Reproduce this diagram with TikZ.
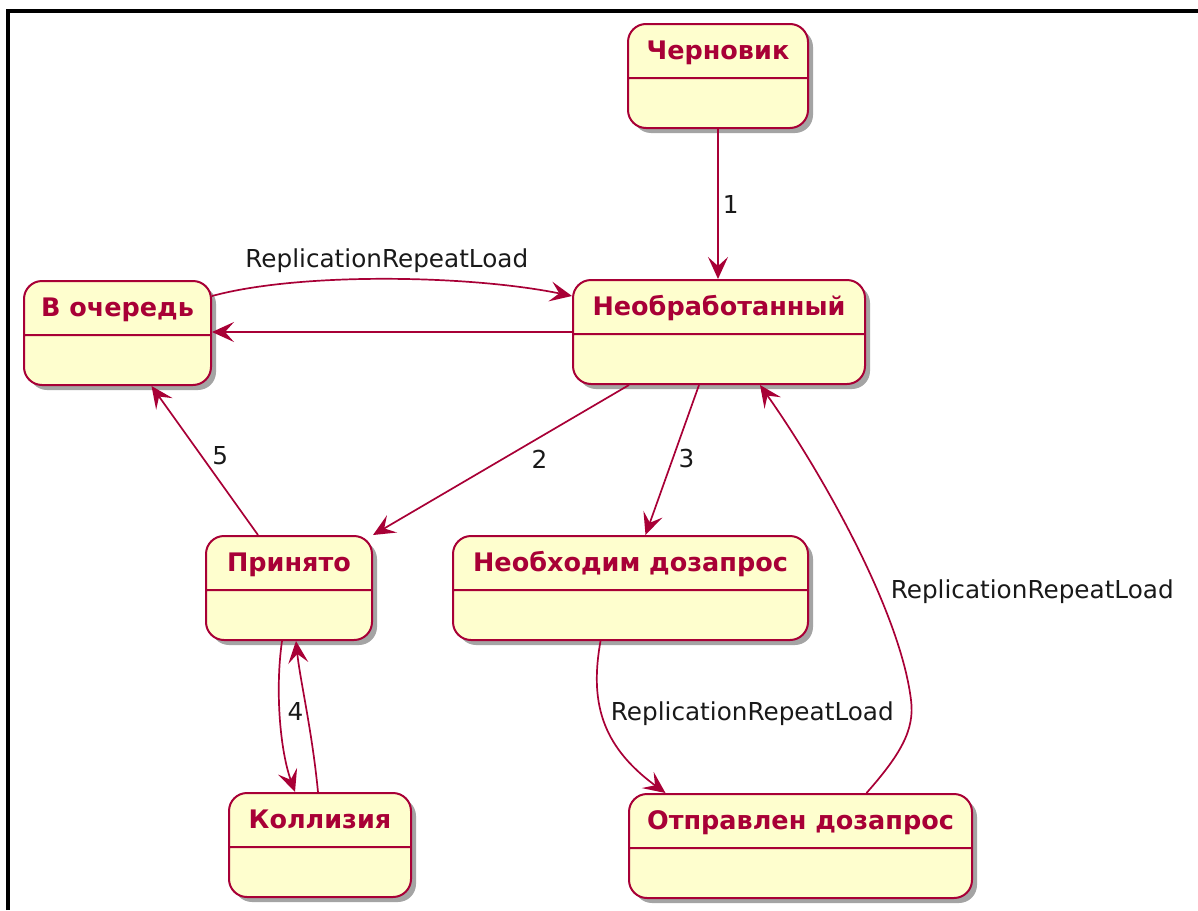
\documentclass[tikz,border=0pt]{standalone}
\usepackage{fontspec}
\setmainfont{DejaVu Sans}
\usetikzlibrary{shapes.multipart,shadows,arrows.meta}
\definecolor{umlred}{HTML}{A80036}
\definecolor{umlfill}{HTML}{FEFECE}
\tikzset{
  state/.style={rectangle split, rectangle split parts=2, draw=umlred, fill=umlfill,
    line width=2pt, rounded corners=18pt, inner sep=0pt, anchor=north,
    font=\bfseries\fontsize{25.5}{28}\selectfont, text=umlred,
    drop shadow={shadow xshift=5pt, shadow yshift=-5pt, fill=black!55, opacity=.65}},
  trans/.style={color=umlred, line width=1.7pt, arrows={-Stealth[length=22pt, width=20pt, inset=9pt]}},
  lbl/.style={font=\fontsize{24.7}{28}\selectfont, text=black!90, inner sep=0pt}
}
\newcommand{\titlestrut}{\rule[-18pt]{0pt}{52pt}}
\newcommand{\bodystrut}{\rule{0pt}{48pt}}
\begin{document}
\begin{tikzpicture}[x=1pt, y=-1pt]
    \useasboundingbox (0,0) rectangle (1198,910);
    \draw[line width=4pt] (7.5,910) -- (7.5,10.5) -- (1198,10.5);
    \node[state, minimum width=180pt] (chern) at (718,23) {\titlestrut Черновик\nodepart{two}\bodystrut};
    \node[state, minimum width=292pt] (neobr) at (719,279) {\titlestrut Необработанный\nodepart{two}\bodystrut};
    \node[state, minimum width=187pt] (voch) at (117.5,280) {\titlestrut В очередь\nodepart{two}\bodystrut};
    \node[state, minimum width=166pt] (prin) at (289,535) {\titlestrut Принято\nodepart{two}\bodystrut};
    \node[state, minimum width=355pt] (neobh) at (630.5,535) {\titlestrut Необходим дозапрос\nodepart{two}\bodystrut};
    \node[state, minimum width=182pt] (koll) at (320,792) {\titlestrut Коллизия\nodepart{two}\bodystrut};
    \node[state, minimum width=343pt] (otpr) at (800.5,793) {\titlestrut Отправлен дозапрос\nodepart{two}\bodystrut};
    \draw[trans] (chern.south) -- (chern.south |- neobr.north) node[lbl, midway, right=4pt] {1};
    \draw[trans] ([yshift=-16pt]voch.north east) .. controls (300,272) and (470,275) .. ([yshift=-17pt]neobr.north west) node[lbl, midway, above=6pt] {ReplicationRepeatLoad};
    \draw[trans] (neobr.west) -- (neobr.west -| voch.east);
    \draw[trans] ([xshift=57pt]neobr.south west) -- (prin.north east) node[lbl, pos=.35, below=12pt] {2};
    \draw[trans] ([xshift=127pt]neobr.south west) -- ([xshift=15pt]neobh.north) node[lbl, pos=.49, right=5pt] {3};
    \draw[trans] ([xshift=-31pt]prin.north) -- ([xshift=34pt]voch.south) node[lbl, pos=.53, right=10pt] {5};
    \draw[trans] ([xshift=-7pt]prin.south) .. controls (275,690) and (280,750) .. ([xshift=-25pt]koll.north) node[lbl, pos=.45, right=7pt] {4};
    \draw[trans] ([xshift=-2pt]koll.north) .. controls (312,730) and (300,680) .. ([xshift=7pt]prin.south);
    \draw[trans] ([xshift=-30pt]neobh.south) .. controls (590,700) and (600,745) .. ([xshift=-135pt]otpr.north) node[lbl, pos=.45, right=8pt] {ReplicationRepeatLoad};
    \draw[trans] ([xshift=66pt]otpr.north) .. controls (900,755) and (915,730) .. (911,700) .. controls (900,610) and (820,470) .. ([xshift=41pt]neobr.south) node[lbl, pos=.35, right=12pt] {ReplicationRepeatLoad};
\end{tikzpicture}
\end{document}
